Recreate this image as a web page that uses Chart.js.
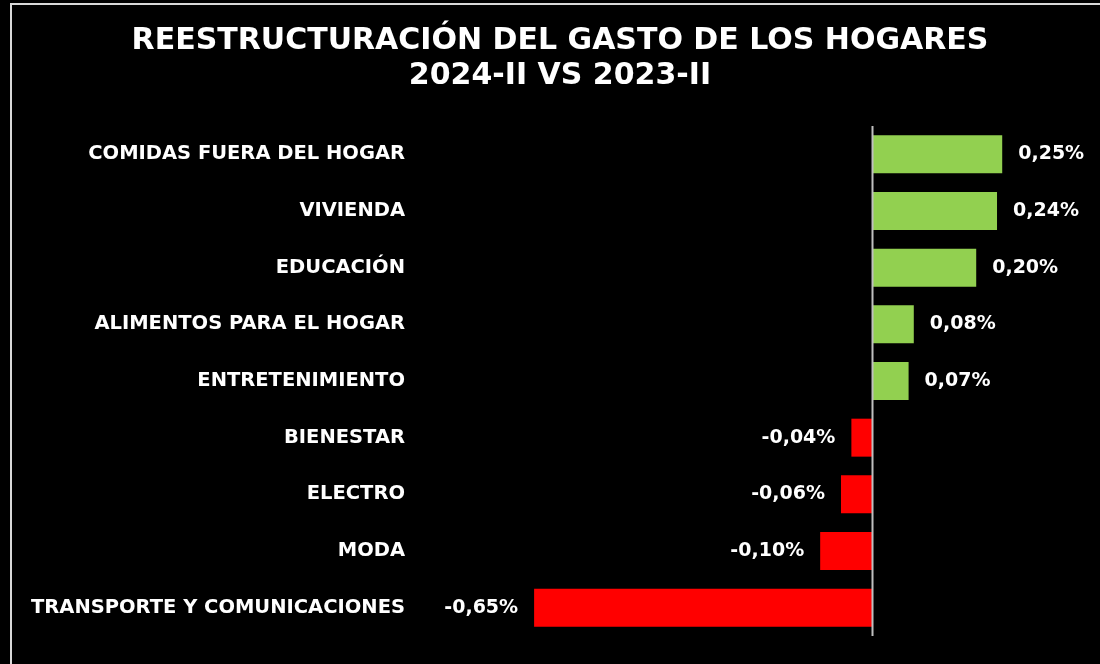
<!DOCTYPE html>
<html>
<head>
<meta charset="utf-8">
<script src="https://cdn.jsdelivr.net/npm/chart.js@4"></script>
<style>
    body { margin: 0; background: #000; }
    #wrap { width: 1100px; height: 664px; }
</style>
</head>
<body>
<div id="wrap"><canvas id="myChart"></canvas></div>
<script>
const categories = [
    "COMIDAS FUERA DEL HOGAR",
    "VIVIENDA",
    "EDUCACIÓN",
    "ALIMENTOS PARA EL HOGAR",
    "ENTRETENIMIENTO",
    "BIENESTAR",
    "ELECTRO",
    "MODA",
    "TRANSPORTE Y COMUNICACIONES"
];
const values = [0.25, 0.24, 0.20, 0.08, 0.07, -0.04, -0.06, -0.10, -0.65];
const titleLines = ["REESTRUCTURACIÓN DEL GASTO DE LOS HOGARES", "2024-II VS 2023-II"];

const fontFamily = "'DejaVu Sans', sans-serif";

function fmt(v) {
    return v.toFixed(2).replace(".", ",") + "%";
}

// black background, frame lines, zero line and value labels
const extras = {
    id: "extras",
    beforeDraw(chart) {
        const c = chart.ctx;
        c.save();
        c.fillStyle = "#000";
        c.fillRect(0, 0, chart.width, chart.height);
        c.restore();
    },
    afterDatasetsDraw(chart) {
        const c = chart.ctx;
        const x = chart.scales.x;
        const area = chart.chartArea;
        const x0 = Math.round(x.getPixelForValue(0)) + 0.5;
        c.save();
        c.strokeStyle = "#bfbfbf";
        c.lineWidth = 2;
        c.beginPath();
        c.moveTo(x0, area.top);
        c.lineTo(x0, area.bottom);
        c.stroke();

        c.font = "bold 19px " + fontFamily;
        c.fillStyle = "#fff";
        c.textBaseline = "middle";
        const meta = chart.getDatasetMeta(0);
        meta.data.forEach((bar, i) => {
            const v = values[i];
            if (v >= 0) {
                c.textAlign = "left";
                c.fillText(fmt(v), bar.x + 16, bar.y);
            } else {
                c.textAlign = "right";
                c.fillText(fmt(v), bar.x - 16, bar.y);
            }
        });

        c.strokeStyle = "#d9d9d9";
        c.lineWidth = 2;
        c.beginPath();
        c.moveTo(11, chart.height);
        c.lineTo(11, 4);
        c.lineTo(chart.width, 4);
        c.stroke();
        c.restore();
    }
};

new Chart(document.getElementById("myChart"), {
    type: "bar",
    data: {
        labels: categories,
        datasets: [{
            data: values,
            backgroundColor: values.map(v => v >= 0 ? "#92d050" : "#ff0000"),
            barPercentage: 0.67,
            categoryPercentage: 1
        }]
    },
    options: {
        indexAxis: "y",
        responsive: true,
        maintainAspectRatio: false,
        animation: false,
        layout: {
            padding: {left: 20, right: 0, top: 0, bottom: 28}
        },
        plugins: {
            legend: {display: false},
            tooltip: {enabled: false},
            title: {
                display: true,
                text: titleLines,
                color: "#fff",
                font: {family: fontFamily, size: 30, weight: "bold", lineHeight: 1.15},
                padding: {top: 24, bottom: 33}
            }
        },
        scales: {
            x: {
                display: false,
                min: -0.879,
                max: 0.438
            },
            y: {
                grid: {display: false, drawTicks: false},
                border: {display: false},
                ticks: {
                    color: "#fff",
                    padding: 10,
                    font: {family: fontFamily, size: 19.5, weight: "bold"}
                },
                afterFit(scale) {
                    scale.width = 395;
                }
            }
        }
    },
    plugins: [extras]
});
</script>
</body>
</html>
